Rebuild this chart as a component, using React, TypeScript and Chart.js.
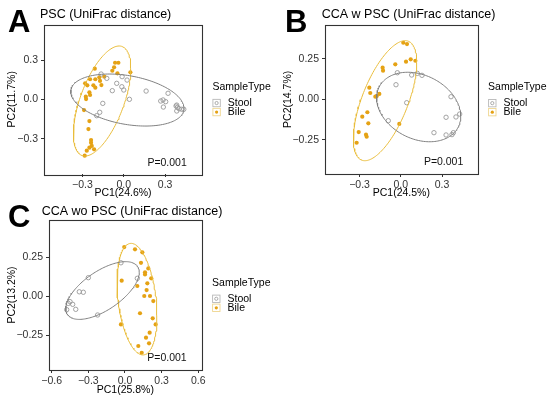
import React, { useEffect, useRef } from "react";
import { Chart, registerables } from "chart.js";

Chart.register(...registerables);

// ---------------- Data ----------------
// Panel A: PSC (UniFrac distance)
const aStoolX = [-0.164, -0.123, -0.012, 0.024, -0.051, -0.014, 0.0, -0.083, 0.041, -0.152, -0.174, -0.196, 0.162, 0.268, 0.285, 0.304, 0.321, 0.287, 0.379, 0.389, 0.401, 0.42, 0.435, 0.384, 0.384];
const aStoolY = [0.193, 0.16, 0.173, 0.147, 0.122, 0.096, 0.071, 0.066, 0.0, -0.031, -0.099, -0.125, 0.063, -0.013, -0.005, -0.018, 0.046, -0.059, -0.051, -0.061, -0.072, -0.076, -0.076, -0.089, -0.044];
const aBileX = [-0.063, -0.039, -0.07, -0.083, 0.048, -0.21, -0.141, -0.177, -0.046, -0.206, -0.244, -0.28, -0.172, -0.162, -0.22, -0.264, -0.206, -0.249, -0.275, -0.244, -0.273, -0.288, -0.249, -0.256, -0.237, -0.237, -0.232, -0.249, -0.215, -0.268, -0.283];
const aBileY = [0.279, 0.279, 0.244, 0.218, 0.206, 0.234, 0.173, 0.168, 0.198, 0.153, 0.153, 0.122, 0.14, 0.109, 0.107, 0.107, 0.089, 0.053, 0.02, 0.033, 0.002, -0.082, -0.166, -0.227, -0.311, -0.331, -0.356, -0.369, -0.382, -0.392, -0.43];
// ellipse: [centerX, centerY, varX, covXY, varY]
const aStoolEllipse = [0.0265, -0.0055, 0.1685, -0.026, 0.0394];
const aBileEllipse = [-0.157, -0.013, 0.0433, 0.052, 0.1764];

// Panel B: CCA w PSC (UniFrac distance)
const bStoolX = [-0.025, 0.079, 0.12, 0.154, -0.035, 0.043, -0.091, 0.365, 0.329, 0.401, 0.428, 0.241, 0.329, 0.372, 0.382];
const bStoolY = [0.164, 0.15, 0.16, 0.148, 0.09, -0.021, -0.132, 0.016, -0.111, -0.109, -0.091, -0.206, -0.22, -0.218, -0.206];
const bBileX = [0.018, 0.045, -0.04, 0.038, 0.072, 0.106, -0.132, -0.129, -0.229, -0.222, -0.156, -0.175, -0.185, -0.243, -0.28, -0.236, -0.306, -0.253, -0.248, -0.321, -0.011];
const bBileY = [0.349, 0.341, 0.216, 0.232, 0.247, 0.238, 0.195, 0.177, 0.072, 0.039, 0.033, 0.02, 0.016, -0.08, -0.107, -0.148, -0.202, -0.218, -0.231, -0.268, -0.152];
const bStoolEllipse = [0.13, -0.0475, 0.0936, -0.0172, 0.046];
const bBileEllipse = [-0.1145, -0.0085, 0.0531, 0.0544, 0.1373];

// Panel C: CCA wo PSC (UniFrac distance)
const cStoolX = [-0.033, 0.101, -0.3, -0.374, -0.341, -0.45, -0.428, -0.464, -0.477, -0.403, -0.224];
const cStoolY = [0.214, 0.115, 0.119, 0.029, 0.026, -0.034, -0.051, -0.045, -0.085, -0.083, -0.119];
const cBileX = [-0.006, 0.082, 0.142, 0.131, 0.191, 0.164, 0.164, 0.215, -0.027, 0.183, 0.101, 0.177, 0.158, 0.205, 0.232, 0.123, -0.033, 0.227, 0.251, 0.202, 0.172, 0.197, 0.109, 0.137];
const cBileY = [0.314, 0.3, 0.281, 0.214, 0.178, 0.153, 0.14, 0.115, 0.1, 0.083, 0.066, 0.04, 0.002, 0.002, -0.03, -0.108, -0.179, -0.14, -0.179, -0.232, -0.264, -0.3, -0.317, -0.36];
const cStoolEllipse = [-0.184, 0.037, 0.0906, 0.035, 0.0339];
const cBileEllipse = [0.0985, -0.018, 0.0267, -0.017, 0.1267];

// Ticks
const ticks03 = [-0.3, 0, 0.3];
const ticks03Labels = ["\u22120.3", "0.0", "0.3"];
const ticks025 = [-0.25, 0, 0.25];
const ticks025Labels = ["\u22120.25", "0.00", "0.25"];
const ticks06 = [-0.6, -0.3, 0, 0.3, 0.6];
const ticks06Labels = ["\u22120.6", "\u22120.3", "0.0", "0.3", "0.6"];

const seriesNames = ["Stool", "Bile"];
const legendTitle = "SampleType";
const pLabel = "P=0.001";

// ---------------- Styles ----------------
const FONT = "'Liberation Sans', Arial, Helvetica, sans-serif";
const STOOL_PT = "#999999";
const STOOL_LINE = "#808080";
const BILE_PT = "#e5a214";
const BILE_LINE = "#e9bd3c";
const AXIS = "#333333";

function ellipsePoints(p: number[]) {
  const [cx, cy, sxx, sxy, syy] = p;
  const a = Math.sqrt(sxx);
  const c = sxy / a;
  const d = Math.sqrt(Math.max(syy - c * c, 0));
  const pts: { x: number; y: number }[] = [];
  const n = 160;
  for (let i = 0; i <= n; i++) {
    const t = (2 * Math.PI * i) / n;
    pts.push({ x: cx + a * Math.cos(t), y: cy + c * Math.cos(t) + d * Math.sin(t) });
  }
  return pts;
}

function zip(xs: number[], ys: number[]) {
  return xs.map((x, i) => ({ x, y: ys[i] }));
}

type Spec = {
  letter: string;
  title: string;
  xTitle: string;
  yTitle: string;
  stoolX: number[];
  stoolY: number[];
  bileX: number[];
  bileY: number[];
  stoolEll: number[];
  bileEll: number[];
  xTicks: number[];
  xLabels: string[];
  yTicks: number[];
  yLabels: string[];
  xMin: number;
  xMax: number;
  yMin: number;
  yMax: number;
  pPos: [number, number];
  left: number;
  top: number;
  w: number;
  h: number;
  padTop: number;
  padRight: number;
  yW: number;
  xH: number;
  yTitlePad: number;
  xTitlePad: number;
  letterX: number;
  letterY: number;
  titleX: number;
  titleY: number;
};

const specs: Spec[] = [
  {
    letter: "A",
    title: "PSC (UniFrac distance)",
    xTitle: "PC1(24.6%)",
    yTitle: "PC2(11.7%)",
    stoolX: aStoolX, stoolY: aStoolY, bileX: aBileX, bileY: aBileY,
    stoolEll: aStoolEllipse, bileEll: aBileEllipse,
    xTicks: ticks03, xLabels: ticks03Labels, yTicks: ticks03, yLabels: ticks03Labels,
    xMin: -0.578, xMax: 0.567, yMin: -0.57, yMax: 0.571,
    pPos: [0.314, -0.486],
    left: 0, top: 0, w: 275, h: 200,
    padTop: 24.5, padRight: 73, yW: 44, xH: 26, yTitlePad: 5.4, xTitlePad: 0.4,
    letterX: 8, letterY: 31.7, titleX: 40, titleY: 18.3,
  },
  {
    letter: "B",
    title: "CCA w PSC (UniFrac distance)",
    xTitle: "PC1(24.5%)",
    yTitle: "PC2(14.7%)",
    stoolX: bStoolX, stoolY: bStoolY, bileX: bBileX, bileY: bBileY,
    stoolEll: bStoolEllipse, bileEll: bBileEllipse,
    xTicks: ticks03, xLabels: ticks03Labels, yTicks: ticks025, yLabels: ticks025Labels,
    xMin: -0.551, xMax: 0.559, yMin: -0.461, yMax: 0.4605,
    pPos: [0.311, -0.387],
    left: 275, top: 0, w: 275, h: 200,
    padTop: 24.7, padRight: 72.3, yW: 50, xH: 26, yTitlePad: 7, xTitlePad: 0.4,
    letterX: 10, letterY: 31.7, titleX: 46.7, titleY: 18.3,
  },
  {
    letter: "C",
    title: "CCA wo PSC (UniFrac distance)",
    xTitle: "PC1(25.8%)",
    yTitle: "PC2(13.2%)",
    stoolX: cStoolX, stoolY: cStoolY, bileX: cBileX, bileY: cBileY,
    stoolEll: cStoolEllipse, bileEll: cBileEllipse,
    xTicks: ticks06, xLabels: ticks06Labels, yTicks: ticks025, yLabels: ticks025Labels,
    xMin: -0.622, xMax: 0.628, yMin: -0.47, yMax: 0.487,
    pPos: [0.344, -0.394],
    left: 0, top: 197, w: 275, h: 202,
    padTop: 23, padRight: 73.3, yW: 49, xH: 29, yTitlePad: 5.4, xTitlePad: 2.7,
    letterX: 8, letterY: 29.7, titleX: 41.7, titleY: 18,
  },
];

function Panel({ spec }: { spec: Spec }) {
  const ref = useRef<HTMLCanvasElement>(null);

  useEffect(() => {
    const canvas = ref.current;
    if (!canvas) return;

    const deco = {
      id: "deco",
      afterDraw(chart: any) {
        const { ctx, chartArea } = chart;
        const { left, right, top, bottom } = chartArea;
        ctx.save();
        // panel frame
        ctx.strokeStyle = AXIS;
        ctx.lineWidth = 1.1;
        ctx.strokeRect(Math.round(left) + 0.5, Math.round(top) + 0.5, Math.round(right - left), Math.round(bottom - top));

        // p-value annotation
        const px = chart.scales.x.getPixelForValue(spec.pPos[0]);
        const py = chart.scales.y.getPixelForValue(spec.pPos[1]);
        ctx.fillStyle = "#111";
        ctx.font = `10.5px ${FONT}`;
        ctx.textAlign = "center";
        ctx.textBaseline = "middle";
        ctx.fillText(pLabel, px, py);

        // header
        ctx.textAlign = "left";
        ctx.textBaseline = "alphabetic";
        ctx.fillStyle = "#000";
        ctx.font = `bold 31px ${FONT}`;
        ctx.fillText(spec.letter, spec.letterX, spec.letterY);
        ctx.font = `12.5px ${FONT}`;
        ctx.fillText(spec.title, spec.titleX, spec.titleY);

        // legend
        const mid = (top + bottom) / 2;
        const x0 = right + 10.4;
        const box = 8.4;
        ctx.font = `10.5px ${FONT}`;
        ctx.textBaseline = "middle";
        ctx.fillStyle = "#000";
        ctx.fillText(legendTitle, x0, mid - 11.8);
        const keys = [
          { name: seriesNames[0], cy: mid + 3.8, line: "#b8b8b8", pt: STOOL_PT, filled: false },
          { name: seriesNames[1], cy: mid + 12.8, line: "#efd68f", pt: BILE_PT, filled: true },
        ];
        keys.forEach((k) => {
          ctx.fillStyle = "#fff";
          ctx.fillRect(x0, k.cy - box / 2, box, box);
          ctx.strokeStyle = k.line;
          ctx.lineWidth = 0.9;
          ctx.strokeRect(x0 + 0.5, k.cy - box / 2 + 0.5, box - 1, box - 1);
          ctx.beginPath();
          ctx.arc(x0 + box / 2, k.cy, 1.6, 0, Math.PI * 2);
          if (k.filled) {
            ctx.fillStyle = k.pt;
            ctx.fill();
          } else {
            ctx.strokeStyle = k.pt;
            ctx.lineWidth = 0.8;
            ctx.stroke();
          }
          ctx.fillStyle = "#000";
          ctx.fillText(k.name, x0 + 15.4, k.cy);
        });
        ctx.restore();
      },
    };

    const tickFont = { family: FONT, size: 10.5 };

    const chart = new Chart(canvas, {
      type: "scatter",
      data: {
        datasets: [
          {
            label: seriesNames[0] + " ellipse",
            data: ellipsePoints(spec.stoolEll),
            showLine: true,
            borderColor: STOOL_LINE,
            borderWidth: 1,
            pointRadius: 0,
            fill: false,
            tension: 0,
            order: 0,
          },
          {
            label: seriesNames[1] + " ellipse",
            data: ellipsePoints(spec.bileEll),
            showLine: true,
            borderColor: BILE_LINE,
            borderWidth: 1,
            pointRadius: 0,
            fill: false,
            tension: 0,
            order: 0,
          },
          {
            label: seriesNames[0],
            data: zip(spec.stoolX, spec.stoolY),
            pointRadius: 2.2,
            pointBackgroundColor: "rgba(255,255,255,0)",
            pointBorderColor: STOOL_PT,
            pointBorderWidth: 0.9,
            order: 1,
          },
          {
            label: seriesNames[1],
            data: zip(spec.bileX, spec.bileY),
            pointRadius: 2.1,
            pointBackgroundColor: BILE_PT,
            pointBorderColor: BILE_PT,
            pointBorderWidth: 0,
            order: 1,
          },
        ],
      },
      options: {
        animation: false,
        responsive: false,
        maintainAspectRatio: false,
        events: [],
        layout: { padding: { top: spec.padTop, right: spec.padRight, bottom: 0, left: 0 } },
        plugins: {
          legend: { display: false },
          tooltip: { enabled: false },
          title: { display: false },
        },
        scales: {
          x: {
            type: "linear",
            min: spec.xMin,
            max: spec.xMax,
            afterBuildTicks: (s: any) => {
              s.ticks = spec.xTicks.map((v) => ({ value: v }));
            },
            afterFit: (s: any) => {
              s.height = spec.xH;
            },
            ticks: {
              callback: (_v: any, i: number) => spec.xLabels[i],
              color: AXIS,
              font: tickFont,
              padding: 1.5,
              autoSkip: false,
              maxRotation: 0,
            },
            grid: { drawOnChartArea: false, drawTicks: true, tickLength: 3, color: AXIS, lineWidth: 1 },
            border: { display: false },
            title: {
              display: true,
              text: spec.xTitle,
              color: "#000",
              font: { family: FONT, size: 10.5 },
              padding: { top: 0, bottom: spec.xTitlePad },
            },
          },
          y: {
            type: "linear",
            min: spec.yMin,
            max: spec.yMax,
            afterBuildTicks: (s: any) => {
              s.ticks = spec.yTicks.map((v) => ({ value: v }));
            },
            afterFit: (s: any) => {
              s.width = spec.yW;
            },
            ticks: {
              callback: (_v: any, i: number) => spec.yLabels[i],
              color: AXIS,
              font: tickFont,
              padding: 3,
              autoSkip: false,
            },
            grid: { drawOnChartArea: false, drawTicks: true, tickLength: 3, color: AXIS, lineWidth: 1 },
            border: { display: false },
            title: {
              display: true,
              text: spec.yTitle,
              color: "#000",
              font: { family: FONT, size: 10.5 },
              padding: { top: spec.yTitlePad, bottom: 0 },
            },
          },
        },
      },
      plugins: [deco],
    } as any);

    return () => {
      chart.destroy();
    };
  }, [spec]);

  return (
    <canvas
      ref={ref}
      width={spec.w}
      height={spec.h}
      style={{ position: "absolute", left: spec.left, top: spec.top, width: spec.w, height: spec.h }}
    />
  );
}

export default function App() {
  return (
    <div style={{ position: "absolute", left: 0, top: 0, width: 550, height: 399, background: "#fff", overflow: "hidden" }}>
      {specs.map((s) => (
        <Panel key={s.letter} spec={s} />
      ))}
    </div>
  );
}
